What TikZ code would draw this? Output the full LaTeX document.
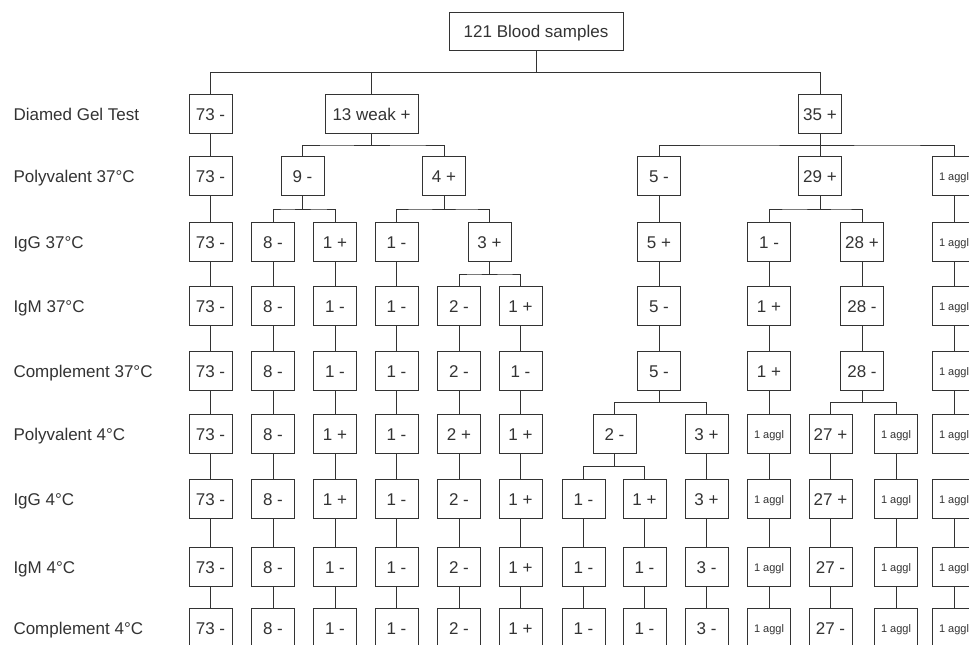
\documentclass[tikz,border=0pt]{standalone}
\usepackage{fontspec}
\setmainfont{Liberation Sans}
\usetikzlibrary{calc}

\begin{document}
\begin{tikzpicture}[x=1pt,y=-1pt,color=black!80,line width=1pt,
  font=\fontsize{17}{20}\selectfont,
  b/.style={draw,minimum width=43pt,minimum height=38.5pt,inner sep=2pt,text height=12pt,text depth=0pt},
  sb/.style={b,font=\fontsize{11}{13}\selectfont,text height=8pt},
  lab/.style={anchor=west,inner sep=0pt,text height=12.5pt,text depth=0pt},
  fork/.style={to path={(\tikztostart.south) |- ($(\tikztostart.south)!.5!(\tikztotarget.north)$) -| (\tikztotarget.north)}}]
\useasboundingbox (0,0) rectangle (969,645);
\clip (0,0) rectangle (969,645);
% row labels
\foreach \n/\y [count=\r] in {Diamed Gel Test/114,Polyvalent 37°C/176,IgG 37°C/242,IgM 37°C/306,
  Complement 37°C/371,Polyvalent 4°C/434,IgG 4°C/499,IgM 4°C/567,Complement 4°C/628}
  \node[lab] (r\r) at (13,\y) {\n};
% upper part of the tree
\node[b,minimum width=174pt] (all) at (536,31.5) {121 Blood samples};
\node[b,minimum width=93pt] (wk) at (371.5,0|-r1) {13 weak +};
\node[b] (pos) at (820,0|-r1) {35 +};
\node[b] (wkn) at (302.5,0|-r2) {9 -};
\node[b] (wkp) at (444,0|-r2) {4 +};
\node[b] (wkg) at (489.5,0|-r3) {3 +};
\foreach \t [count=\r from 2] in {5 -,5 +,5 -,5 -} \node[b] (n\r) at (659,0|-r\r) {\t};
\node[b] (n6) at (614.5,0|-r6) {2 -};
\node[b] (q2) at (820,0|-r2) {29 +};
\foreach \t [count=\r from 3] in {28 +,28 -,28 -} \node[b] (q\r) at (862,0|-r\r) {\t};
% columns
\foreach \r in {1,...,9} \node[b] (a\r) at (210.5,0|-r\r) {73 -};
\foreach \r in {3,...,9} \node[b] (b\r) at (273,0|-r\r) {8 -};
\foreach \t [count=\r from 3] in {1 +,1 -,1 -,1 +,1 +,1 -,1 -} \node[b] (c\r) at (335,0|-r\r) {\t};
\foreach \r in {3,...,9} \node[b] (d\r) at (396.5,0|-r\r) {1 -};
\foreach \t [count=\r from 4] in {2 -,2 -,2 +,2 -,2 -,2 -} \node[b] (e\r) at (459,0|-r\r) {\t};
\foreach \t [count=\r from 4] in {1 +,1 -,1 +,1 +,1 +,1 +} \node[b] (f\r) at (520.5,0|-r\r) {\t};
\foreach \r in {7,...,9} \node[b] (g\r) at (583.5,0|-r\r) {1 -};
\foreach \t [count=\r from 7] in {1 +,1 -,1 -} \node[b] (h\r) at (644.5,0|-r\r) {\t};
\foreach \t [count=\r from 6] in {3 +,3 +,3 -,3 -} \node[b] (i\r) at (706.5,0|-r\r) {\t};
\foreach \t [count=\r from 3] in {1 -,1 +,1 +} \node[b] (j\r) at (769,0|-r\r) {\t};
\foreach \r in {6,...,9} \node[sb] (j\r) at (769,0|-r\r) {1 aggl};
\foreach \t [count=\r from 6] in {27 +,27 +,27 -,27 -} \node[b] (k\r) at (830.5,0|-r\r) {\t};
\foreach \r in {6,...,9} \node[sb] (l\r) at (896,0|-r\r) {1 aggl};
\foreach \r in {2,...,9} \node[sb] (m\r) at (954,0|-r\r) {1 aggl};
% connectors
\foreach \u/\v in {all/a1,all/wk,all/pos,wk/wkn,wk/wkp,wkn/b3,wkn/c3,wkp/d3,wkp/wkg,wkg/e4,wkg/f4,
  pos/n2,pos/q2,pos/m2,n5/n6,n5/i6,n6/g7,n6/h7,q2/j3,q2/q3,q5/k6,q5/l6}
  \draw[fork] (\u) to (\v);
\draw (n2)--(n3)--(n4)--(n5) (q3)--(q4)--(q5) (m2)--(m3)--(m4)--(m5)--(m6) (m7)--(m8)--(m9);
\foreach \c/\s in {a/1,b/3,c/3,d/3,e/4,f/4,g/7,h/7,i/6,j/3,k/6,l/6}
  \foreach \r in {\s,...,8}{\pgfmathtruncatemacro\nx{\r+1}\draw (\c\r)--(\c\nx);}
\end{tikzpicture}
\end{document}
